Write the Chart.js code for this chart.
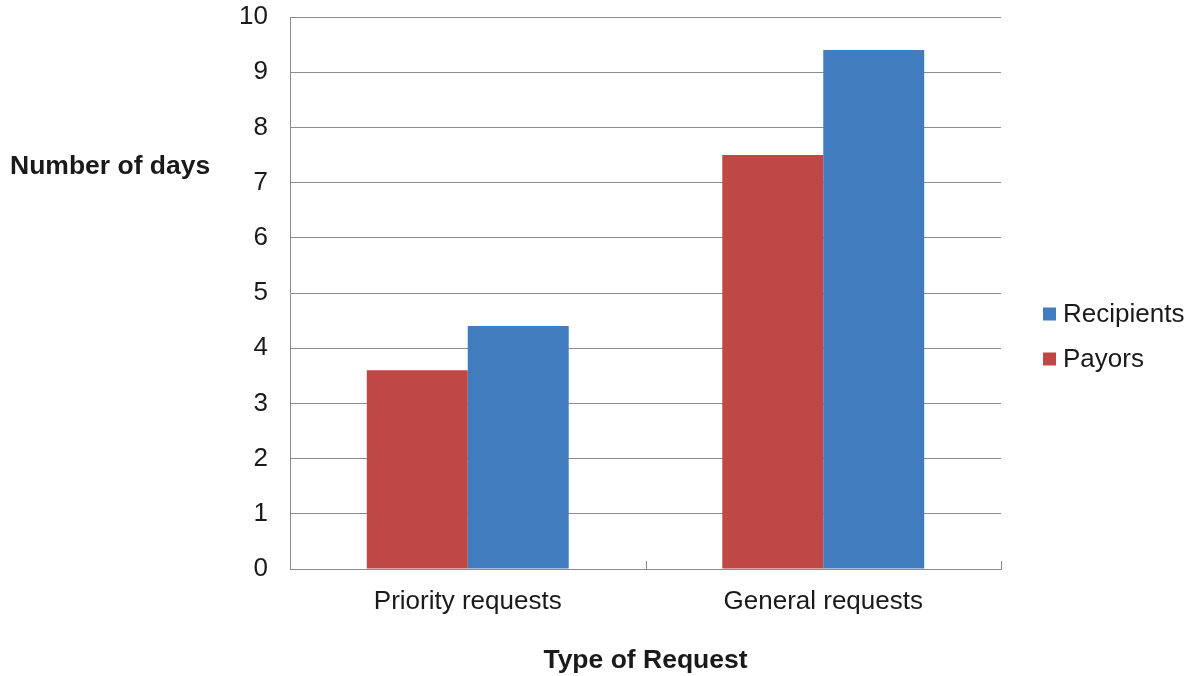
<!DOCTYPE html>
<html>
<head>
<meta charset="utf-8">
<script src="https://cdn.jsdelivr.net/npm/chart.js@4/dist/chart.umd.min.js"></script>
<style>
  html, body { margin: 0; padding: 0; background: #fff; }
  #wrap { width: 1193px; height: 676px; position: relative; }
</style>
</head>
<body>
<div id="wrap"><canvas id="c" width="1193" height="676"></canvas></div>
<script>
const categories = ['Priority requests', 'General requests'];
const payors = [3.6, 7.5];
const recipients = [4.4, 9.4];
const yTicks = [0, 1, 2, 3, 4, 5, 6, 7, 8, 9, 10];

const FONT = '"Liberation Sans", Arial, sans-serif';
const RED = '#BF4745';
const BLUE = '#417DBE';
const GRID = '#8c8c8c';

// Titles, inward category tick marks and the side legend
const extras = {
  id: 'extras',
  afterDraw(chart) {
    const ctx = chart.ctx;
    const area = chart.chartArea;
    const x = chart.scales.x;
    ctx.save();
    // category boundary ticks pointing up from the axis
    ctx.strokeStyle = GRID;
    ctx.lineWidth = 1;
    const n = categories.length;
    for (let i = 0; i <= n; i++) {
      const px = Math.round(x.getPixelForValue(i - 0.5)) + 0.5;
      ctx.beginPath();
      ctx.moveTo(px, area.bottom);
      ctx.lineTo(px, area.bottom - 8);
      ctx.stroke();
    }
    // axis titles
    ctx.fillStyle = '#1a1a1a';
    ctx.font = 'bold 26.5px ' + FONT;
    ctx.textBaseline = 'middle';
    ctx.textAlign = 'left';
    ctx.fillText('Number of days', 10, 167);
    ctx.textAlign = 'center';
    ctx.fillText('Type of Request', (area.left + area.right) / 2, 661);
    // legend (reverse dataset order)
    ctx.font = '26px ' + FONT;
    ctx.textAlign = 'left';
    const items = chart.data.datasets.slice().reverse();
    items.forEach((ds, i) => {
      const cy = 314 + i * 45;
      ctx.fillStyle = ds.backgroundColor;
      ctx.fillRect(1043, cy - 6.5, 13, 13);
      ctx.fillStyle = '#1a1a1a';
      ctx.fillText(ds.label, 1063, cy + 1);
    });
    ctx.restore();
  }
};

new Chart(document.getElementById('c'), {
  type: 'bar',
  data: {
    labels: categories,
    datasets: [
      { label: 'Payors', data: payors, backgroundColor: RED },
      { label: 'Recipients', data: recipients, backgroundColor: BLUE }
    ]
  },
  options: {
    responsive: false,
    animation: false,
    devicePixelRatio: 1,
    layout: { padding: { left: 0, right: 192, top: 17, bottom: 0 } },
    datasets: { bar: { categoryPercentage: 0.568, barPercentage: 1.0 } },
    plugins: { legend: { display: false }, tooltip: { enabled: false } },
    scales: {
      x: {
        grid: { display: false, drawTicks: false },
        border: { display: true, color: GRID, width: 1 },
        ticks: { color: '#1a1a1a', font: { family: FONT, size: 26 }, padding: 17 },
        afterFit(s) { s.height = 107; }
      },
      y: {
        min: 0, max: 10,
        afterBuildTicks(s) { s.ticks = yTicks.map(v => ({ value: v })); },
        grid: { color: GRID, lineWidth: 1, drawTicks: false },
        border: { display: true, color: GRID, width: 1 },
        ticks: { color: '#1a1a1a', font: { family: FONT, size: 26 }, padding: 22 },
        afterFit(s) { s.width = 290; s.paddingTop = 0; s.paddingBottom = 0; }
      }
    }
  },
  plugins: [extras]
});
</script>
</body>
</html>
